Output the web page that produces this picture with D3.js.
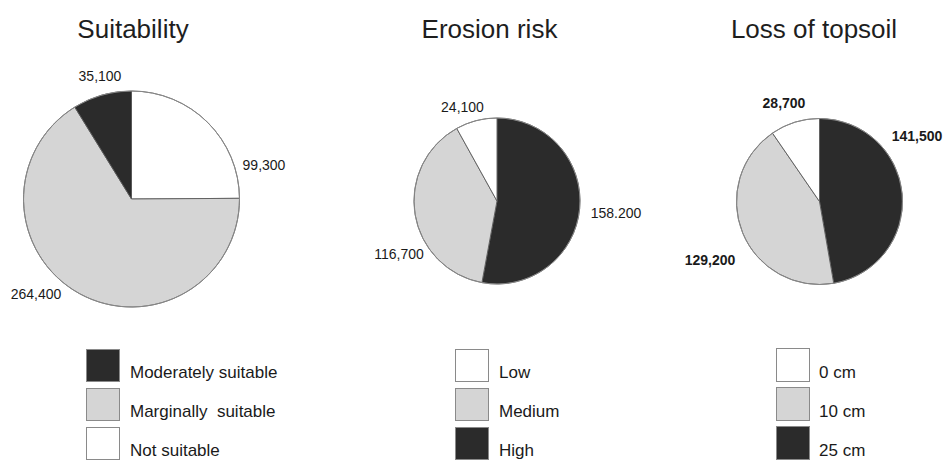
<!DOCTYPE html>
<html>
<head>
<meta charset="utf-8">
<script src="https://cdn.jsdelivr.net/npm/d3@7"></script>
<style>
  html, body { margin: 0; padding: 0; background: #fff; }
  svg { display: block; font-family: "Liberation Sans", Arial, Helvetica, sans-serif; }
</style>
</head>
<body>
<svg id="chart" width="944" height="461"></svg>
<script>
// Land area (ha) per class, listed in legend order
const suitabilityCategories = ["Moderately suitable", "Marginally  suitable", "Not suitable"];
const suitabilityValues = [35100, 264400, 99300];
const suitabilityLabels = ["35,100", "264,400", "99,300"];

const erosionCategories = ["Low", "Medium", "High"];
const erosionValues = [24100, 116700, 158200];
const erosionLabels = ["24,100", "116,700", "158.200"];

const topsoilCategories = ["0 cm", "10 cm", "25 cm"];
const topsoilValues = [28700, 129200, 141500];
const topsoilLabels = ["28,700", "129,200", "141,500"];

const titles = ["Suitability", "Erosion risk", "Loss of topsoil"];

// Fills per legend row
const shadeDark = "#2b2b2b", shadeGray = "#d5d5d5", shadeWhite = "#ffffff";

const panels = [
  { title: titles[0], cats: suitabilityCategories, values: suitabilityValues, labels: suitabilityLabels,
    fills: [shadeDark, shadeGray, shadeWhite], cx: 131.5, cy: 199, r: 108, titleX: 133,
    labelPos: [[100, 81], [36, 299], [264, 170]], bold: false,
    legend: { x: 86, baseline: 378, textX: 130, step: 39, w: 33, h: 32 } },
  { title: titles[1], cats: erosionCategories, values: erosionValues, labels: erosionLabels,
    fills: [shadeWhite, shadeGray, shadeDark], cx: 497, cy: 201, r: 83, titleX: 489.5,
    labelPos: [[462.5, 112], [399, 259], [616, 218]], bold: false,
    legend: { x: 455, baseline: 378, textX: 499, step: 39, w: 33, h: 32 } },
  { title: titles[2], cats: topsoilCategories, values: topsoilValues, labels: topsoilLabels,
    fills: [shadeWhite, shadeGray, shadeDark], cx: 819.5, cy: 201.5, r: 83, titleX: 814,
    labelPos: [[784, 108], [710, 265], [917, 141]], bold: true,
    legend: { x: 776, baseline: 378, textX: 819, step: 39, w: 33, h: 33 } }
];

const svg = d3.select("#chart");

panels.forEach(p => {
  const g = svg.append("g");

  // Title
  g.append("text")
    .attr("x", p.titleX).attr("y", 38)
    .attr("text-anchor", "middle")
    .attr("font-size", 26)
    .attr("fill", "#1e1e1e")
    .text(p.title);

  // Slices run clockwise from 12 o'clock in reverse legend order
  const rows = p.cats.map((c, i) => ({ cat: c, value: p.values[i], label: p.labels[i], fill: p.fills[i], idx: i }));
  const ordered = rows.slice().reverse();
  const pie = d3.pie().sort(null).value(d => d.value);
  const arc = d3.arc().innerRadius(0).outerRadius(p.r);

  const pg = g.append("g").attr("transform", `translate(${p.cx},${p.cy})`);
  pg.selectAll("path.slice")
    .data(pie(ordered))
    .join("path")
    .attr("class", "slice")
    .attr("d", arc)
    .attr("fill", d => d.data.fill)
    .attr("stroke", "#5a5a5a")
    .attr("stroke-width", 0.9)
    .attr("stroke-linejoin", "round");

  pg.append("circle")
    .attr("r", p.r)
    .attr("fill", "none")
    .attr("stroke", "#8a8a8a")
    .attr("stroke-width", 0.9);

  // Value labels
  g.selectAll("text.value")
    .data(rows)
    .join("text")
    .attr("class", "value")
    .attr("x", d => p.labelPos[d.idx][0])
    .attr("y", d => p.labelPos[d.idx][1])
    .attr("text-anchor", "middle")
    .attr("font-size", 14)
    .attr("font-weight", p.bold ? "bold" : "normal")
    .attr("fill", "#1a1a1a")
    .text(d => d.label);

  // Legend: swatch bottoms sit just below each text baseline
  const L = p.legend;
  const lg = g.append("g");
  lg.selectAll("rect")
    .data(rows)
    .join("rect")
    .attr("x", L.x + 0.5)
    .attr("y", d => L.baseline + d.idx * L.step - L.h + 3.5)
    .attr("width", L.w)
    .attr("height", L.h)
    .attr("fill", d => d.fill)
    .attr("stroke", "#8a8a8a")
    .attr("stroke-width", 1);
  lg.selectAll("text")
    .data(rows)
    .join("text")
    .attr("x", L.textX)
    .attr("y", d => L.baseline + d.idx * L.step)
    .attr("font-size", 17)
    .attr("fill", "#1a1a1a")
    .attr("xml:space", "preserve")
    .style("white-space", "pre")
    .text(d => d.cat);
});
</script>
</body>
</html>
